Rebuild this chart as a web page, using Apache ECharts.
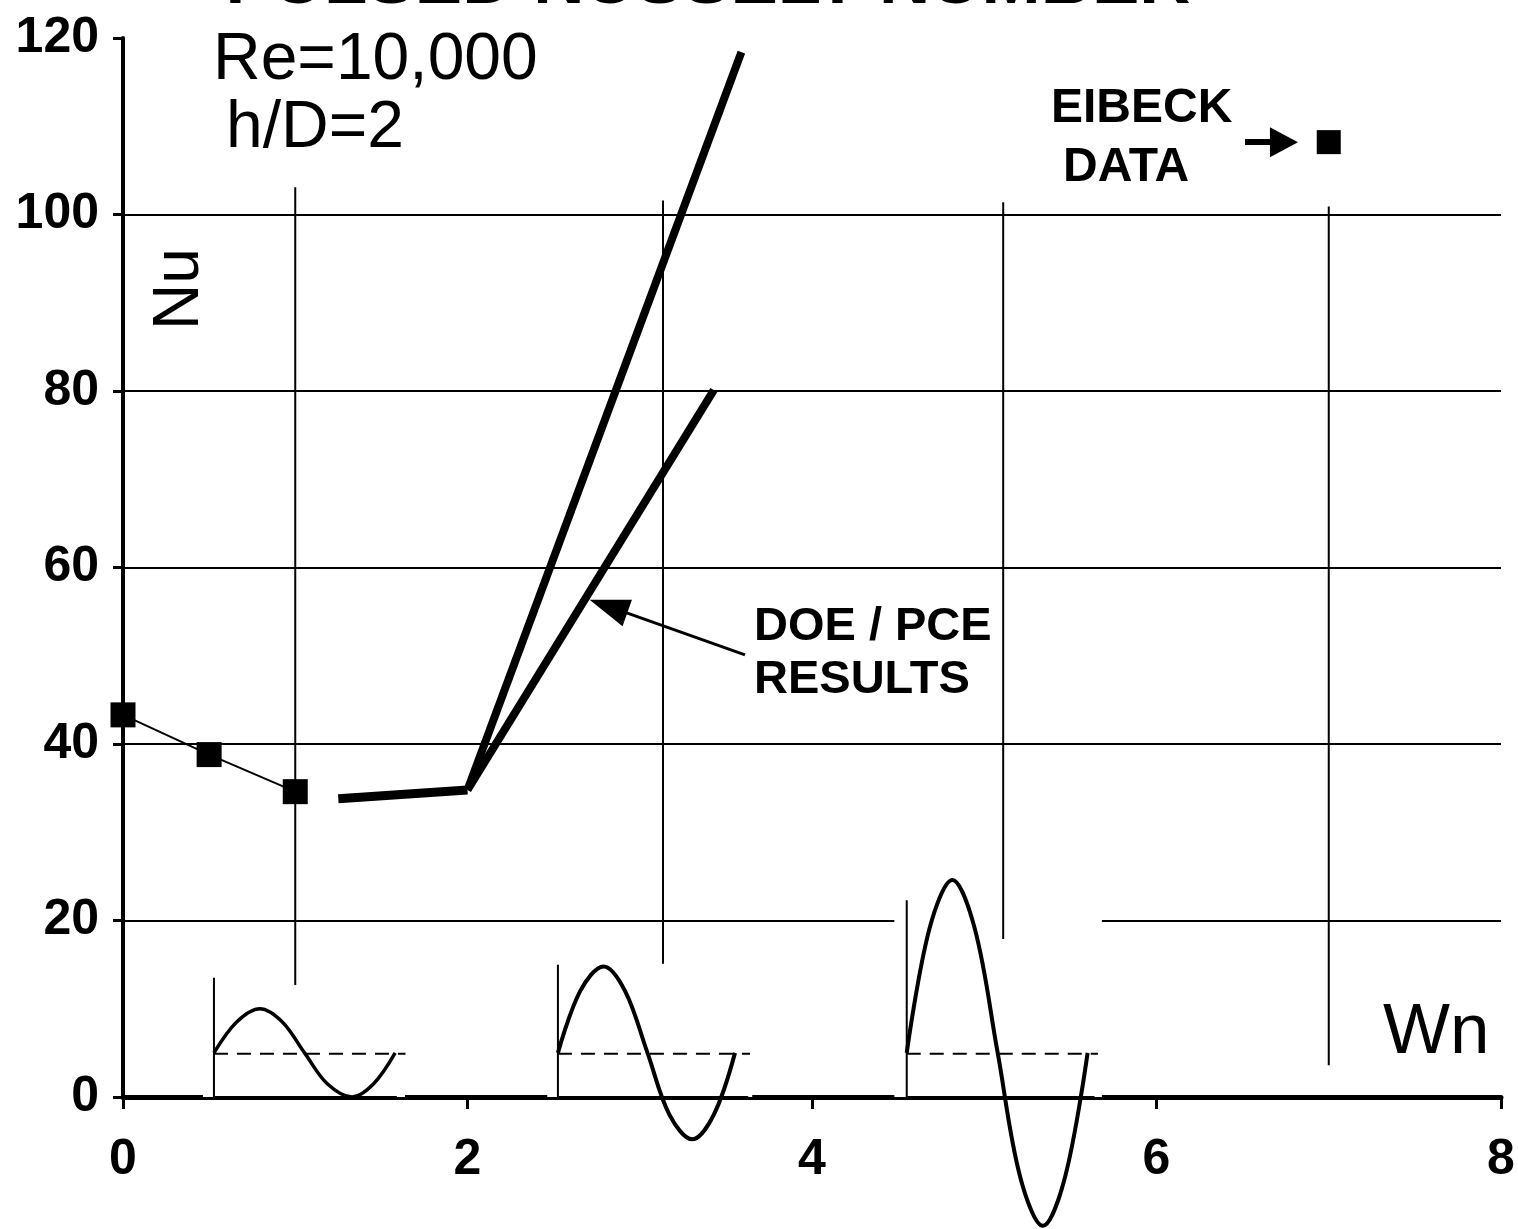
<!DOCTYPE html>
<html><head><meta charset="utf-8">
<script src="https://cdn.jsdelivr.net/npm/echarts@6/dist/echarts.min.js"></script>
<style>html,body{margin:0;padding:0;background:#fff}#c{width:1518px;height:1229px}</style>
</head><body><div id="c"></div>
<script>
// ---- data (x = Wn, y = Nu) ----
const eibeckPulsed = [[0, 43.3], [0.5, 38.8], [1.0, 34.6]];
const eibeckSteady = [[7.0, 108.2]];
const doeFlat = [[1.25, 33.8], [2.0, 34.8]];
const doeUpper = [[2.0, 34.8], [3.59, 118.4]];
const doeLower = [[2.0, 34.8], [3.43, 80.1]];
// vertical reference lines (top, bottom)
const refLine1 = [[1.0, 103.1], [1.0, 12.7]];
const refLine2 = [[3.135, 101.6], [3.135, 15.1]];
const refLine3 = [[5.11, 101.4], [5.11, 17.9]];
const refLine4 = [[7.0, 100.9], [7.0, 3.6]];
// inset waveforms
const wave1 = [[0.528,5],[0.660,8.5],[0.795,10],[0.925,8.5],[1.054,5],[1.186,1.5],[1.330,0],[1.455,1.5],[1.580,5]];
const wave2 = [[2.525,5],[2.654,12],[2.790,14.8],[2.915,12],[3.045,5],[3.172,-2],[3.305,-4.8],[3.430,-2],[3.553,5]];
const wave3 = [[4.550,5],[4.681,19],[4.815,24.6],[4.946,19],[5.078,5],[5.208,-9],[5.340,-14.6],[5.470,-9],[5.600,5]];
const frame1 = [[0.528,13.5],[0.528,0],[1.59,0]];
const frame2 = [[2.525,15.0],[2.525,0],[3.63,0]];
const frame3 = [[4.55,22.3],[4.55,0],[5.64,0]];
const dash1 = [[0.528,4.9],[1.64,4.9]];
const dash2 = [[2.525,4.9],[3.64,4.9]];
const dash3 = [[4.55,4.9],[5.66,4.9]];
const insetMasks = [
  [[0.464,-2],[1.637,12.9]],
  [[2.463,-2],[3.653,15.0]],
  [[4.478,-2],[5.683,21.0]]
];
const doeArrow = [[3.611, 50.1], [2.818, 55.6]];
const eibeckArrow = [[6.514, 108.2], [6.740, 108.2]];

const FONT = '"Liberation Sans", Arial, sans-serif';
const chart = echarts.init(document.getElementById('c'), null, {renderer: 'canvas'});

function seg(data, width, z, dash) {
  return {
    type: 'line', data: data, symbol: 'none', clip: false, silent: true, z: z || 3,
    lineStyle: {color: '#000', width: width, type: dash || 'solid'},
    animation: false
  };
}

const series = [
  {
    type: 'line', data: [], z: 1, clip: false, silent: true, animation: false,
    markArea: {
      silent: true,
      itemStyle: {color: '#ffffff', opacity: 1},
      label: {show: false},
      data: insetMasks.map(m => [{coord: m[0]}, {coord: m[1]}])
    }
  },
  seg(refLine1, 2, 2), seg(refLine2, 2, 2), seg(refLine3, 2, 2), seg(refLine4, 2, 2),
  seg(frame1, 2, 3), seg(frame2, 2, 3), seg(frame3, 2, 3),
  seg(dash1, 2, 3, [14, 9]), seg(dash2, 2, 3, [14, 9]), seg(dash3, 2, 3, [14, 9]),
  Object.assign(seg(wave1, 3.5, 4), {smooth: 0.35}),
  Object.assign(seg(wave2, 4, 4), {smooth: 0.35}),
  Object.assign(seg(wave3, 4, 4), {smooth: 0.35}),
  {
    name: 'Eibeck pulsed', type: 'line', data: eibeckPulsed, clip: false, animation: false, z: 5,
    symbol: 'rect', symbolSize: 25,
    itemStyle: {color: '#000'}, lineStyle: {color: '#000', width: 2}
  },
  {
    name: 'Eibeck data', type: 'line', data: eibeckSteady, clip: false, animation: false, z: 5,
    symbol: 'rect', symbolSize: 24, itemStyle: {color: '#000'}, lineStyle: {width: 0},
    markLine: {
      silent: true, animation: false,
      symbol: ['none', 'triangle'], symbolSize: [30, 28],
      label: {show: false},
      lineStyle: {color: '#000', width: 6, type: 'solid'},
      data: [[{coord: eibeckArrow[0]}, {coord: eibeckArrow[1]}]]
    }
  },
  {
    name: 'DOE/PCE', type: 'line', data: doeFlat, clip: false, animation: false, z: 5,
    symbol: 'none', lineStyle: {color: '#000', width: 9},
    markLine: {
      silent: true, animation: false,
      symbol: ['none', 'triangle'], symbolSize: [28, 40],
      label: {show: false},
      lineStyle: {color: '#000', width: 3, type: 'solid'},
      data: [[{coord: doeArrow[0]}, {coord: doeArrow[1]}]]
    }
  },
  {type: 'line', data: doeUpper, clip: false, animation: false, z: 5, symbol: 'none',
   lineStyle: {color: '#000', width: 8}},
  {type: 'line', data: doeLower, clip: false, animation: false, z: 5, symbol: 'none',
   lineStyle: {color: '#000', width: 8}}
];

const axisLabelStyle = {color: '#000', fontSize: 50, fontWeight: 'bold', fontFamily: FONT};

chart.setOption({
  animation: false,
  backgroundColor: '#ffffff',
  grid: {left: 123, right: 17, top: 38, bottom: 132, containLabel: false, outerBoundsMode: 'none'},
  xAxis: {
    type: 'value', min: 0, max: 8, interval: 2,
    axisLine: {show: true, onZero: false, lineStyle: {color: '#000', width: 5}},
    axisTick: {show: true, inside: false, length: 12, lineStyle: {color: '#000', width: 3}},
    axisLabel: Object.assign({margin: 38}, axisLabelStyle),
    splitLine: {show: false}
  },
  yAxis: {
    type: 'value', min: 0, max: 120, interval: 20,
    axisLine: {show: true, onZero: false, lineStyle: {color: '#000', width: 4}},
    axisTick: {show: true, inside: false, length: 10, lineStyle: {color: '#000', width: 3}},
    axisLabel: Object.assign({margin: 24}, axisLabelStyle),
    splitLine: {show: true, showMaxLine: false, showMinLine: false, lineStyle: {color: '#000', width: 2}}
  },
  graphic: [
    {type: 'text', x: 708, y: -17, z: 10, style: {text: 'PULSED NUSSELT NUMBER', fontSize: 71, fontWeight: 'bold', fontFamily: FONT, fill: '#000', align: 'center', verticalAlign: 'middle'}},
    {type: 'text', x: 213, y: 61, z: 10, style: {text: 'Re=10,000', fontSize: 66, fontFamily: FONT, fill: '#000', align: 'left', verticalAlign: 'middle'}},
    {type: 'text', x: 226, y: 129, z: 10, style: {text: 'h/D=2', fontSize: 66, fontFamily: FONT, fill: '#000', align: 'left', verticalAlign: 'middle'}},
    {type: 'text', x: 180, y: 289, rotation: Math.PI / 2, z: 10, style: {text: 'Nu', fontSize: 64, fontFamily: FONT, fill: '#000', align: 'center', verticalAlign: 'middle'}},
    {type: 'text', x: 1051, y: 109, z: 10, style: {text: 'EIBECK', fontSize: 48, fontWeight: 'bold', fontFamily: FONT, fill: '#000', align: 'left', verticalAlign: 'middle'}},
    {type: 'text', x: 1063, y: 168, z: 10, style: {text: 'DATA', fontSize: 48, fontWeight: 'bold', fontFamily: FONT, fill: '#000', align: 'left', verticalAlign: 'middle'}},
    {type: 'text', x: 754, y: 627, z: 10, style: {text: 'DOE / PCE', fontSize: 47, fontWeight: 'bold', fontFamily: FONT, fill: '#000', align: 'left', verticalAlign: 'middle'}},
    {type: 'text', x: 754, y: 680, z: 10, style: {text: 'RESULTS', fontSize: 47, fontWeight: 'bold', fontFamily: FONT, fill: '#000', align: 'left', verticalAlign: 'middle'}},
    {type: 'text', x: 1383, y: 1033, z: 10, style: {text: 'Wn', fontSize: 71, fontFamily: FONT, fill: '#000', align: 'left', verticalAlign: 'middle'}}
  ],
  series: series
});
</script>
</body></html>
